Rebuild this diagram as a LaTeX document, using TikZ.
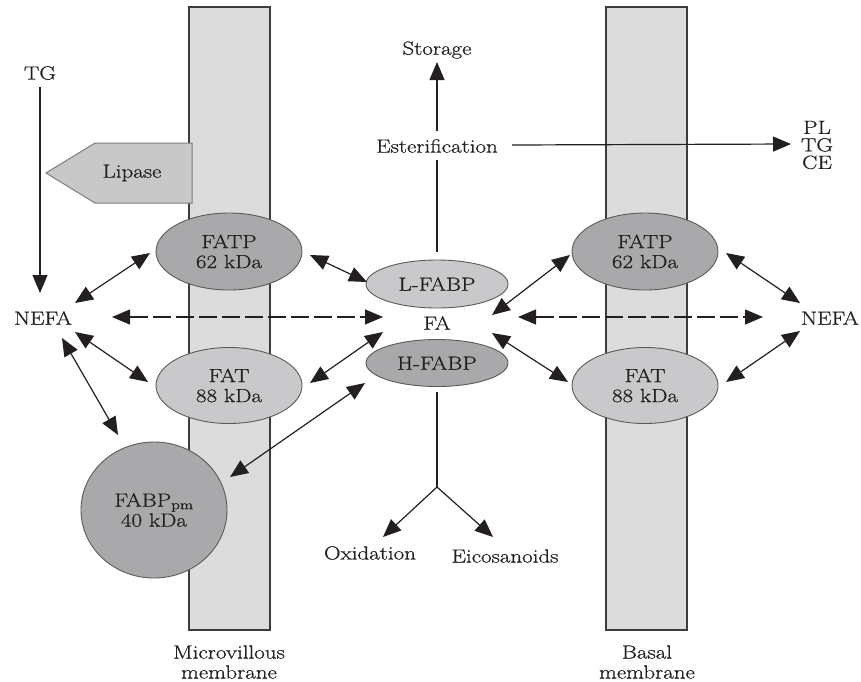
\documentclass[tikz,border=0pt]{standalone}
\usepackage{fontspec}
\setmainfont{Latin Modern Roman}[FakeStretch=1.21, FakeBold=0.7]
\usetikzlibrary{arrows.meta,shapes.geometric,calc}
\definecolor{ink}{HTML}{231F20}
\definecolor{memfill}{HTML}{DCDCDD}
\definecolor{memline}{HTML}{3C3C3C}
\definecolor{darkprot}{HTML}{A9A9AB}
\definecolor{lightprot}{HTML}{C9C9CB}
\definecolor{protline}{HTML}{5A5A5A}
\definecolor{lipfill}{HTML}{C8C8C8}
\definecolor{lipline}{HTML}{7E7E7E}
\tikzset{
  membrane/.style={draw=memline, fill=memfill, line width=1.4pt},
  lbl/.style={inner sep=1pt, text=ink, align=center},
  prot/.style={ellipse, draw=protline, line width=0.9pt, inner sep=0pt, text=ink, align=center},
  darkp/.style={prot, fill=darkprot},
  lightp/.style={prot, fill=lightprot},
  tip/.style={>={Triangle[length=18pt,width=15pt]}},
  dbl/.style={tip, <->, draw=ink, line width=1.2pt},
  one/.style={tip, ->, draw=ink, line width=1.2pt},
  plain/.style={draw=ink, line width=1.2pt},
  dsh/.style={dbl, line width=1.1pt, dash pattern=on 18pt off 5pt}
}
\begin{document}
\begin{tikzpicture}[x=1pt, y=-1pt, font=\fontsize{19}{20}\selectfont]
\useasboundingbox (0,0) rectangle (861,681);

% membranes
\draw[membrane] (189,7) rectangle (270,630);
\draw[membrane] (606,7) rectangle (687,630);

% lipase
\draw[draw=lipline, fill=lipfill, line width=1pt]
  (192,143) -- (95,143) -- (46,173) -- (95,203) -- (192,203) -- cycle;
\node[lbl] (lipase) at (132,173) {Lipase};

% text nodes
\node[lbl] (tgL) at (40,73) {TG};
\node[lbl] (nefaL) at (43,318) {NEFA};
\node[lbl] (nefaR) at (830,318) {NEFA};
\node[lbl] (storage) at (437,50) {Storage};
\node[lbl] (ester) at (437,146) {Esterification};
\node[lbl, font=\fontsize{19}{17.5}\selectfont] (pl) at (817,145) {PL\\TG\\CE};
\node[lbl] (fa) at (437,323) {FA};
\node[lbl] (oxid) at (370,553) {Oxidation};
\node[lbl] (eico) at (505,556) {Eicosanoids};
\node[lbl] (mvm) at (229,662) {Microvillous\\membrane};
\node[lbl] (bm) at (647,662) {Basal\\membrane};

% proteins
\node[darkp, minimum width=146pt, minimum height=77pt] (fatpL) at (229,251.5) {FATP\\62 kDa};
\node[lightp, minimum width=146pt, minimum height=76pt] (fatL) at (229,385.5) {FAT\\88 kDa};
\node[darkp, minimum width=146pt, minimum height=77pt] (fatpR) at (645,251.5) {FATP\\62 kDa};
\node[lightp, minimum width=146pt, minimum height=76pt] (fatR) at (645,385.5) {FAT\\88 kDa};
\node[lightp, minimum width=142pt, minimum height=48pt] (lfabp) at (437,284) {L-FABP};
\node[darkp, minimum width=142pt, minimum height=47pt] (hfabp) at (437,363) {H-FABP};
\node[darkp, minimum width=146pt, minimum height=136pt] (fabp) at (154,510) {FABP\textsubscript{pm}\\40 kDa};

\coordinate (branch) at ($(hfabp.center)+(0,124)$);

% connectors
\draw[one] ($(tgL.center)+(0,14)$) -- ($(nefaL.center)+(-3,-25)$);
\draw[dbl] ($(nefaL.center)+(32,-15)$) -- ($(fatpL.center)+(-79,1.5)$);
\draw[dbl] ($(nefaL.center)+(32,14)$) -- ($(fatL.center)+(-81,-3.5)$);
\draw[dbl] ($(nefaL.center)+(19,20)$) -- ($(fabp.center)+(-36,-75)$);
\draw[dsh] ($(nefaL.center)+(69,-1)$) -- ($(fa.center)+(-54,-6)$);
\draw[dbl] ($(fatpL.center)+(81,3.5)$) -- ($(lfabp.center)+(-70,-2)$);
\draw[dbl] ($(fatL.center)+(81,-2.5)$) -- ($(fa.center)+(-54,9)$);
\draw[dbl] ($(fabp.center)+(76,-33)$) -- ($(hfabp.center)+(-72,20)$);
\draw[dbl] ($(fa.center)+(55,-8)$) -- ($(fatpR.center)+(-75,3.5)$);
\draw[dbl] ($(fa.center)+(55,10)$) -- ($(fatR.center)+(-77,-3.5)$);
\draw[dsh] ($(fa.center)+(81,-6)$) -- ($(nefaR.center)+(-67,-1)$);
\draw[dbl] ($(fatpR.center)+(81,1.5)$) -- ($(nefaR.center)+(-30,-15)$);
\draw[dbl] ($(fatR.center)+(81,-3.5)$) -- ($(nefaR.center)+(-30,13)$);
\draw[one] ($(ester.center)+(0,-15)$) -- ($(storage.center)+(0,12)$);
\draw[one] ($(ester.center)+(75,-1)$) -- ($(pl.center)+(-26,-1)$);
\draw[plain] ($(ester.center)+(0,14)$) -- ($(lfabp.center)+(0,-32)$);
\draw[plain] ($(hfabp.center)+(0,29)$) -- (branch);
\draw[one] (branch) -- ($(oxid.center)+(13,-16)$);
\draw[one] (branch) -- ($(eico.center)+(-12,-19)$);
\end{tikzpicture}
\end{document}
